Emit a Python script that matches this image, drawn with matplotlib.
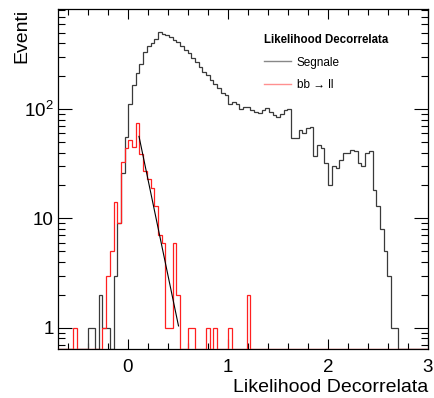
import numpy as np
import matplotlib
matplotlib.use("Agg")
import matplotlib.pyplot as plt
from matplotlib.lines import Line2D
from matplotlib.ticker import FixedLocator, FixedFormatter, MultipleLocator, NullFormatter

plt.rcParams['font.family'] = ['Liberation Sans', 'DejaVu Sans']

# ---- data ----
bin_lo, bin_hi, n_bins = -0.7, 3.0, 100

segnale = [0, 0, 0, 0, 0, 0, 0, 0, 1, 1,
           0, 2, 1, 1, 0, 3, 9, 26, 56, 111,
           165, 214, 260, 334, 376, 402, 440, 505, 484, 474,
           452, 427, 406, 379, 346, 322, 290, 267, 240, 220,
           205, 184, 169, 155, 139, 134, 111, 117, 111, 101,
           105, 105, 98, 94, 91, 98, 102, 94, 88, 85,
           90, 98, 101, 54, 54, 64, 60, 67, 69, 37,
           47, 44, 32, 20, 30, 29, 34, 40, 40, 42,
           41, 32, 30, 40, 41, 18, 13, 8, 5, 3,
           1, 1, 0, 0, 0, 0, 0, 0, 0, 0]

bbll = [0, 0, 0, 0, 1, 0, 0, 0, 0, 0,
        0, 0, 1, 3, 5, 14, 9, 33, 44, 52,
        45, 74, 39, 27, 23, 19, 13, 7, 6, 1,
        1, 6, 2, 0, 0, 1, 1, 0, 0, 0,
        1, 0, 1, 0, 0, 0, 1, 0, 0, 0,
        0, 2, 0, 0, 0, 0, 0, 0, 0, 0,
        0, 0, 0, 0, 0, 0, 0, 0, 0, 0,
        0, 0, 0, 0, 0, 0, 0, 0, 0, 0,
        0, 0, 0, 0, 0, 0, 0, 0, 0, 0,
        0, 0, 0, 0, 0, 0, 0, 0, 0, 0]

# exponential fit y = exp(p0 + p1*x) over its range
fit_p0, fit_p1 = 5.14, -10.1
fit_range = (0.11, 0.505)

x_ticks = [0, 1, 2, 3]
x_ticklabels = ['0', '1', '2', '3']
y_ticks = [1, 10, 100]
y_ticklabels = ['1', '10', '10$^{2}$']

xlim = (-0.7, 3.0)
ylim = (0.64, 820)

plt.rcParams['mathtext.fontset'] = 'custom'
plt.rcParams['mathtext.rm'] = 'Liberation Sans'
plt.rcParams['mathtext.it'] = 'Liberation Sans:italic'

# ---- figure ----
fig = plt.figure(figsize=(4.34, 3.98), dpi=100)
ax = fig.add_axes([58 / 434, 1 - 349 / 398, 370 / 434, 340 / 398])

edges = np.linspace(bin_lo, bin_hi, n_bins + 1)
s = np.asarray(segnale, float)
b = np.asarray(bbll, float)
s_plot = np.where(s > 0, s, ylim[0])
b_plot = np.where(b > 0, b, ylim[0])

ax.stairs(s_plot, edges, baseline=None, color='#3a3a3a', lw=0.9, zorder=2)
ax.stairs(b_plot, edges, baseline=None, color='#ff2020', lw=0.9, zorder=3)

xf = np.linspace(fit_range[0], fit_range[1], 50)
ax.plot(xf, np.exp(fit_p0 + fit_p1 * xf), color='black', lw=0.8, zorder=4)

ax.set_yscale('log')
ax.set_xlim(*xlim)
ax.set_ylim(*ylim)

ax.xaxis.set_major_locator(FixedLocator(x_ticks))
ax.xaxis.set_major_formatter(FixedFormatter(x_ticklabels))
ax.xaxis.set_minor_locator(MultipleLocator(0.2))
ax.yaxis.set_major_locator(FixedLocator(y_ticks))
ax.yaxis.set_major_formatter(FixedFormatter(y_ticklabels))
minor_y = [m * 10 ** e for e in (-1, 0, 1, 2) for m in range(2, 10)]
ax.yaxis.set_minor_locator(FixedLocator(minor_y))
ax.yaxis.set_minor_formatter(NullFormatter())

ax.tick_params(which='both', direction='in', top=True, right=True,
               labelsize=13.5, width=0.8)
ax.tick_params(axis='x', which='major', length=7, pad=7)
ax.tick_params(axis='x', which='minor', length=4)
ax.tick_params(axis='y', which='major', length=10, pad=3)
ax.tick_params(axis='y', which='minor', length=5)
for sp in ax.spines.values():
    sp.set_linewidth(0.9)

fig.text(428 / 434, 1 - 392 / 398, 'Likelihood Decorrelata', ha='right',
         va='baseline', fontsize=14)
fig.text(22 / 434, 1 - 9 / 398, 'Eventi', rotation=90, ha='center',
         va='top', fontsize=14)

handles = [Line2D([], [], color='#888888', lw=1.0),
           Line2D([], [], color='#ff9090', lw=1.0)]
leg = ax.legend(handles, ['Segnale', 'bb \u2192 ll'], title='Likelihood Decorrelata',
                loc='upper left', bbox_to_anchor=(258 / 434, 1 - 28 / 398),
                bbox_transform=fig.transFigure, frameon=False, fontsize=8.5,
                title_fontproperties={'weight': 'bold', 'size': 8.3},
                alignment='left', borderpad=0, handlelength=2.3,
                handletextpad=0.5, labelspacing=0.9)

fig.savefig('out.png', dpi=100)
